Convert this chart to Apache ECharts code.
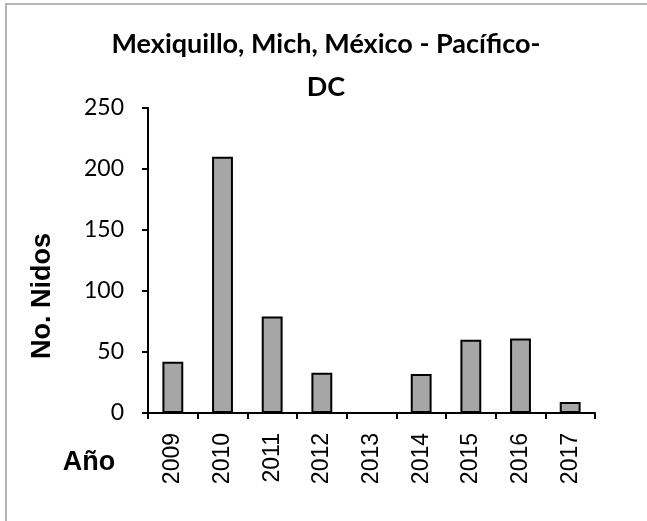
<!DOCTYPE html>
<html>
<head>
<meta charset="utf-8">
<script src="https://cdn.jsdelivr.net/npm/echarts@6/dist/echarts.min.js"></script>
<style>html,body{margin:0;padding:0;background:#fff;}#c{width:647px;height:521px;}</style>
</head>
<body>
<div id="c"></div>
<script>
const categories = ['2009','2010','2011','2012','2013','2014','2015','2016','2017'];
const nidos = [42, 210, 79, 33, 0, 32, 60, 61, 9];
const yTicks = [0, 50, 100, 150, 200, 250];
const titleLines = ['Mexiquillo, Mich, México - Pacífico-', 'DC'];
const yName = 'No. Nidos';
const xName = 'Año';

const chart = echarts.init(document.getElementById('c'), null, {renderer: 'canvas'});
chart.setOption({
  animation: false,
  backgroundColor: '#fff',
  graphic: [{
    type: 'rect', shape: {x: 6, y: 4, width: 700, height: 600},
    style: {fill: 'none', stroke: '#b5b5b5', lineWidth: 2}, silent: true
  }, {
    type: 'text', x: 89, y: 463,
    style: {text: xName, font: 'bold 27px "Liberation Sans", Arial', fill: '#000', align: 'center', verticalAlign: 'middle'}
  }, {
    type: 'text', x: 43, y: 296, rotation: Math.PI / 2,
    style: {text: yName, font: 'bold 27px "Liberation Sans", Arial', fill: '#000', align: 'center', verticalAlign: 'middle'}
  }],
  title: {
    text: titleLines.join('\n'),
    left: 321, top: 18, textAlign: 'center',
    textStyle: {fontFamily: 'Lato', fontWeight: 'bold', fontSize: 27, lineHeight: 43, color: '#000'}
  },
  grid: {left: 148, right: 52, top: 108, bottom: 108, containLabel: false},
  xAxis: {
    type: 'category', data: categories,
    axisLine: {lineStyle: {color: '#000', width: 2}},
    axisTick: {show: true, length: 6, lineStyle: {color: '#000', width: 2}, alignWithLabel: false},
    axisLabel: {rotate: 90, margin: 20, color: '#000', fontFamily: '"Liberation Sans", Arial', fontSize: 23, interval: 0}
  },
  yAxis: {
    type: 'value', min: 0, max: 250, interval: 50,
    axisLine: {show: true, lineStyle: {color: '#000', width: 2}},
    axisTick: {show: true, length: 6, lineStyle: {color: '#000', width: 2}},
    splitLine: {show: false},
    axisLabel: {margin: 24, color: '#000', fontFamily: 'Lato', fontSize: 23,
      formatter: v => yTicks.includes(v) ? String(v) : ''}
  },
  series: [{
    type: 'bar', data: nidos, barWidth: '42%',
    itemStyle: {color: '#a6a6a6', borderColor: '#000', borderWidth: 2}
  }]
});
</script>
</body>
</html>
